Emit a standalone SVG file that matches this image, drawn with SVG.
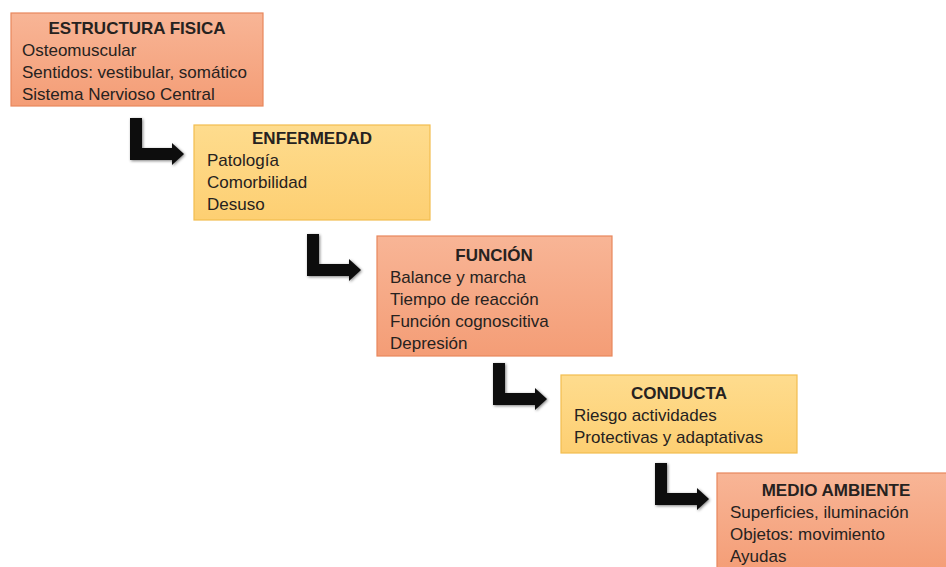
<svg xmlns="http://www.w3.org/2000/svg" width="946" height="567" viewBox="0 0 946 567">
  <defs>
    <linearGradient id="gOrange" x1="0" y1="0" x2="0" y2="1">
      <stop offset="0" stop-color="#f8b596"/>
      <stop offset="1" stop-color="#f49d76"/>
    </linearGradient>
    <linearGradient id="gYellow" x1="0" y1="0" x2="0" y2="1">
      <stop offset="0" stop-color="#fedc8e"/>
      <stop offset="1" stop-color="#fdcf72"/>
    </linearGradient>
    <filter id="soft" x="-20%" y="-20%" width="150%" height="150%">
      <feGaussianBlur in="SourceAlpha" stdDeviation="1.5"/>
      <feOffset dx="1" dy="1" result="b"/>
      <feComponentTransfer><feFuncA type="linear" slope="0.5"/></feComponentTransfer>
      <feMerge><feMergeNode/><feMergeNode in="SourceGraphic"/></feMerge>
    </filter>
    <!-- bent connector: drop down, then turn right into the next box -->
    <path id="bend" d="M0,0 H12 V30 H42 V25 L54,36 L42,47 V42 H0 Z"/>
  </defs>
  <style>
    .orange { fill: url(#gOrange); stroke: #e8875d; stroke-width: 1.2; }
    .yellow { fill: url(#gYellow); stroke: #f2bd4f; stroke-width: 1.2; }
    text { font-family: "Liberation Sans", Arial, sans-serif; font-size: 17px; fill: #262220; }
    .title { font-weight: bold; text-anchor: middle; }
    .conn { fill: #0d0d0d; filter: url(#soft); }
  </style>

  <g id="connectors">
    <use href="#bend" class="conn" x="130" y="118"/>
    <use href="#bend" class="conn" x="307" y="234"/>
    <use href="#bend" class="conn" x="493" y="363"/>
    <use href="#bend" class="conn" x="655" y="463"/>
  </g>

  <g id="estructura-fisica">
    <rect class="orange" x="11" y="13" width="252" height="93"/>
    <text class="title" x="137" y="33.5">ESTRUCTURA FISICA</text>
    <text x="22" y="56">Osteomuscular</text>
    <text x="22" y="78">Sentidos: vestibular, somático</text>
    <text x="22" y="99.5">Sistema Nervioso Central</text>
  </g>

  <g id="enfermedad">
    <rect class="yellow" x="194" y="125" width="236" height="95"/>
    <text class="title" x="312" y="143.5">ENFERMEDAD</text>
    <text x="207" y="165.5">Patología</text>
    <text x="207" y="187.5">Comorbilidad</text>
    <text x="207" y="209.5">Desuso</text>
  </g>

  <g id="funcion">
    <rect class="orange" x="377" y="236" width="235" height="120"/>
    <text class="title" x="494" y="260.5">FUNCIÓN</text>
    <text x="390" y="282.5">Balance y marcha</text>
    <text x="390" y="304.5">Tiempo de reacción</text>
    <text x="390" y="326.5">Función cognoscitiva</text>
    <text x="390" y="348.5">Depresión</text>
  </g>

  <g id="conducta">
    <rect class="yellow" x="561" y="375" width="236" height="78"/>
    <text class="title" x="679" y="399">CONDUCTA</text>
    <text x="574" y="420.5">Riesgo actividades</text>
    <text x="574" y="442.5">Protectivas y adaptativas</text>
  </g>

  <g id="medio-ambiente">
    <rect class="orange" x="717" y="473" width="240" height="100"/>
    <text class="title" x="836" y="496">MEDIO AMBIENTE</text>
    <text x="730" y="518">Superficies, iluminación</text>
    <text x="730" y="540">Objetos: movimiento</text>
    <text x="730" y="561.5">Ayudas</text>
  </g>
</svg>
